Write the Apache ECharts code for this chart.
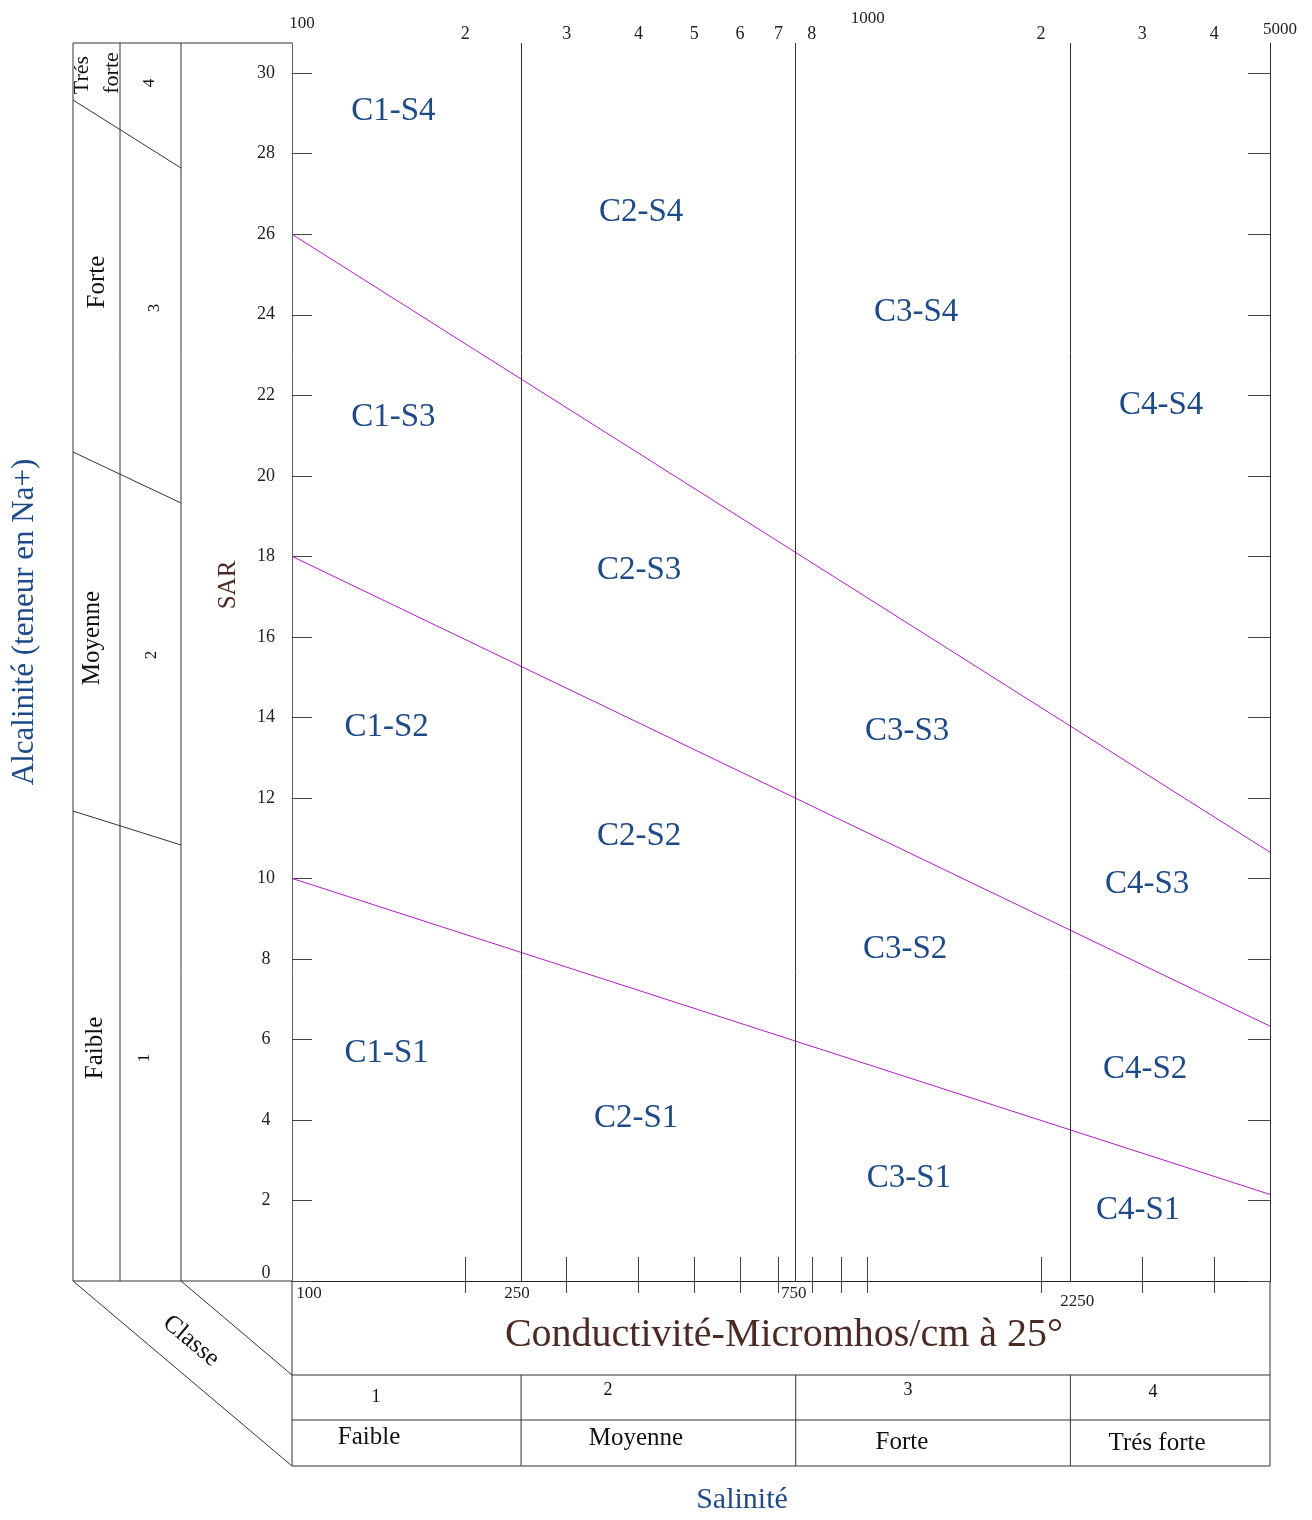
<!DOCTYPE html>
<html>
<head>
<meta charset="utf-8">
<script src="https://cdn.jsdelivr.net/npm/echarts@6/dist/echarts.min.js"></script>
<style>
html, body { margin: 0; padding: 0; background: #fff; }
#main { width: 1312px; height: 1520px; }
</style>
</head>
<body>
<div id="main"></div>
<script>
// conductivité (micromhos/cm), échelle logarithmique
const condRange = [100, 5000];
// limites des classes de salinité
const classLimits = [250, 750, 2250];
// droites de séparation des classes SAR : valeur à 100 et à 5000
const sarAt100 = [10, 18, 26];
const sarAt5000 = [2.15, 6.33, 10.65];
// étiquettes des zones
const zoneNames = ['C1-S4', 'C2-S4', 'C3-S4', 'C4-S4',
  'C1-S3', 'C2-S3', 'C3-S3', 'C4-S3',
  'C1-S2', 'C2-S2', 'C3-S2', 'C4-S2',
  'C1-S1', 'C2-S1', 'C3-S1', 'C4-S1'];
const zoneCond = [150, 404, 1214, 3234,
  150, 401, 1171, 3058,
  146, 401, 1162, 3034,
  146, 396, 1180, 2950];
const zoneSar = [29.1, 26.6, 24.1, 21.8,
  21.5, 17.7, 13.7, 9.9,
  13.8, 11.1, 8.3, 5.3,
  5.7, 4.1, 2.6, 1.8];
// graduations
const sarTicks = [0, 2, 4, 6, 8, 10, 12, 14, 16, 18, 20, 22, 24, 26, 28, 30];
const topLabels = [100, 200, 300, 400, 500, 600, 700, 800, 1000, 2000, 3000, 4000, 5000];
const minorTicks = [200, 300, 400, 500, 600, 700, 800, 900, 1000, 2000, 3000, 4000];
const bottomLabels = [100, 250, 750, 2250];
const salClasses = ['1', '2', '3', '4'];
const salNames = ['Faible', 'Moyenne', 'Forte', 'Trés forte'];

const serif = '"Liberation Serif", "Times New Roman", serif';
const blue = '#1e4b87';
const brown = '#4a2a22';
const ink = '#333';

const chart = echarts.init(document.getElementById('main'));

const zoneData = zoneNames.map((n, i) => ({ name: n, value: [zoneCond[i], zoneSar[i]] }));

const boundarySeries = sarAt100.map((s, i) => ({
  type: 'line',
  xAxisIndex: 0,
  yAxisIndex: 0,
  data: [[condRange[0], s], [condRange[1], sarAt5000[i]]],
  symbol: 'none',
  silent: true,
  lineStyle: { color: '#b01cc4', width: 1 },
  markLine: i === 0 ? {
    symbol: 'none',
    silent: true,
    label: { show: false },
    lineStyle: { color: ink, type: 'solid', width: 1 },
    data: classLimits.map(v => ({ xAxis: v }))
  } : undefined
}));

chart.setOption({
  animation: false,
  grid: { left: 292, right: 42, top: 43, bottom: 239, outerBoundsMode: 'none' },
  xAxis: [
    {
      type: 'log', logBase: 10, min: condRange[0], max: condRange[1],
      position: 'bottom',
      axisLine: { show: true, lineStyle: { color: '#555', width: 1 } },
      axisTick: { show: true, inside: true, length: 24, customValues: minorTicks, lineStyle: { color: '#444' } },
      minorTick: { show: false },
      splitLine: { show: false },
      axisLabel: {
        customValues: bottomLabels, margin: 4,
        fontFamily: serif, fontSize: 17, color: '#222',
        formatter: v => {
          const r = Math.round(v);
          if (r === 100) return '{a|100}';
          if (r === 250) return '{b|250}';
          if (r === 2250) return '{d|2250}';
          return '{c|' + r + '}';
        },
        rich: {
          a: { fontFamily: serif, fontSize: 17, color: '#222', padding: [0, 0, 0, 34] },
          b: { fontFamily: serif, fontSize: 17, color: '#222', padding: [0, 8, 0, 0] },
          c: { fontFamily: serif, fontSize: 17, color: '#222', padding: [0, 4, 0, 0] },
          d: { fontFamily: serif, fontSize: 17, color: '#222', padding: [8, 0, 0, 14] }
        }
      }
    },
    {
      type: 'log', logBase: 10, min: condRange[0], max: condRange[1],
      position: 'top',
      axisLine: { show: true, lineStyle: { color: '#222', width: 1 } },
      axisTick: { show: true, inside: true, length: 12, customValues: minorTicks, lineStyle: { color: '#444' } },
      minorTick: { show: false },
      splitLine: { show: false },
      axisLabel: {
        customValues: topLabels, margin: 0,
        fontFamily: serif, fontSize: 17, color: '#222',
        formatter: v => {
          const r = Math.round(v);
          if (r === 100) return '{a|100}';
          if (r === 1000) return '{b|1000}';
          if (r === 5000) return '{c|5000}';
          return '{d|' + String(r).charAt(0) + '}';
        },
        rich: {
          a: { fontFamily: serif, fontSize: 17, color: '#222', padding: [0, 0, 11, 20] },
          b: { fontFamily: serif, fontSize: 17, color: '#222', padding: [0, 0, 16, 0] },
          c: { fontFamily: serif, fontSize: 17, color: '#222', padding: [0, 0, 5, 20] },
          d: { fontFamily: serif, fontSize: 18, color: '#222' }
        }
      }
    }
  ],
  yAxis: [
    {
      type: 'value', min: 0, max: 30.75, position: 'left',
      axisLine: { show: true, lineStyle: { color: '#666', width: 1 } },
      axisTick: { show: true, inside: true, length: 20, customValues: sarTicks, lineStyle: { color: '#444' } },
      splitLine: { show: false },
      axisLabel: {
        customValues: sarTicks, margin: 26, align: 'center',
        fontFamily: serif, fontSize: 18, color: '#222',
        formatter: v => v === 0 ? '{z|0}' : '{n|' + v + '}',
        rich: {
          z: { fontFamily: serif, fontSize: 18, color: '#222', padding: [0, 0, 16, 0] },
          n: { fontFamily: serif, fontSize: 18, color: '#222' }
        }
      }
    },
    {
      type: 'value', min: 0, max: 30.75, position: 'right',
      axisLine: { show: true, lineStyle: { color: '#333', width: 1 } },
      axisTick: { show: true, inside: true, length: 22, customValues: sarTicks, lineStyle: { color: '#444' } },
      splitLine: { show: false },
      axisLabel: { show: false }
    }
  ],
  series: boundarySeries.concat([{
    type: 'scatter',
    xAxisIndex: 0,
    yAxisIndex: 0,
    data: zoneData,
    symbolSize: 1,
    itemStyle: { color: 'rgba(0,0,0,0)', opacity: 1 },
    silent: true,
    label: {
      show: true, position: 'inside', formatter: '{b}', opacity: 1, offset: [0, 2],
      fontFamily: serif, fontSize: 33, color: blue
    }
  }])
});

// cadre et tableaux de classes
const px = v => chart.convertToPixel({ xAxisIndex: 0 }, v);
const L = (x1, y1, x2, y2) => ({
  type: 'line', silent: true,
  shape: { x1: x1, y1: y1, x2: x2, y2: y2 },
  style: { stroke: ink, lineWidth: 1 }
});
const T = (text, x, y, size, color, rot) => ({
  type: 'text', silent: true, x: x, y: y, rotation: rot || 0,
  style: { text: text, fill: color || '#111', fontFamily: serif, fontSize: size, align: 'center', verticalAlign: 'middle' }
});

const g = [
  L(73, 43, 292, 43),
  L(73, 43, 73, 1281), L(120, 43, 120, 1281), L(181, 43, 181, 1281),
  L(73, 100, 181, 168), L(73, 452, 181, 503), L(73, 811, 181, 845),
  L(73, 1281, 292, 1281),
  L(73, 1281, 292, 1466), L(181, 1281, 292, 1375),
  L(292, 1281, 292, 1466), L(1270, 1281, 1270, 1466),
  L(292, 1375, 1270, 1375), L(292, 1420, 1270, 1420), L(292, 1466, 1270, 1466)
];
classLimits.forEach(v => g.push(L(px(v), 1375, px(v), 1466)));

const R = Math.PI / 2;
g.push(
  T('Trés', 82, 75, 22, '#111', R),
  T('forte', 112, 73, 22, '#111', R),
  T('4', 150, 83, 17, '#111', R),
  T('Forte', 97, 282, 25, '#111', R),
  T('3', 155, 308, 17, '#111', R),
  T('Moyenne', 92, 638, 25, '#111', R),
  T('2', 152, 655, 17, '#111', R),
  T('Faible', 95, 1048, 25, '#111', R),
  T('1', 145, 1058, 17, '#111', R),
  T('Alcalinité (teneur en Na+)', 25, 622, 31, blue, R),
  T('SAR', 228, 585, 25, brown, R),
  T('Classe', 191, 1341, 25, '#111', -0.70),
  T('Conductivité-Micromhos/cm à 25°', 784, 1335, 40, brown),
  T('Salinité', 742, 1500, 30, blue)
);
const numX = [376, 608, 908, 1153];
const numY = [1397, 1390, 1390, 1392];
const nameX = [369, 636, 902, 1157];
const nameY = [1437, 1438, 1442, 1443];
salClasses.forEach((c, i) => g.push(T(c, numX[i], numY[i], 18)));
salNames.forEach((n, i) => g.push(T(n, nameX[i], nameY[i], 25)));

chart.setOption({ graphic: g });
</script>
</body>
</html>
